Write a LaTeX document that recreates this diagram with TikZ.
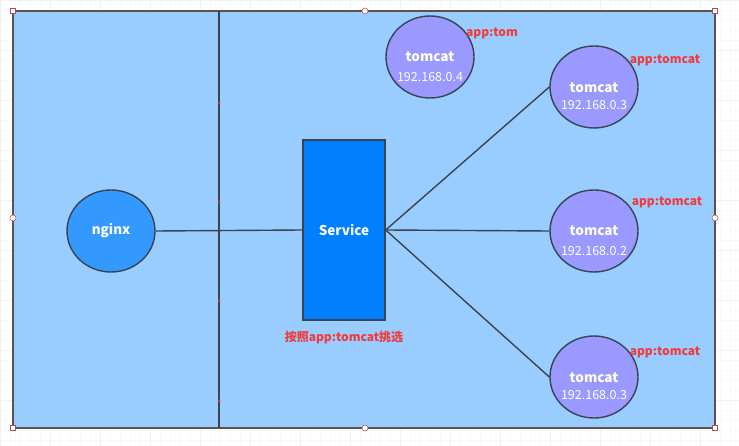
\documentclass[tikz,border=0pt]{standalone}
\usepackage{fontspec}
\setmainfont{Noto Sans CJK SC}
\usetikzlibrary{shapes.geometric}

\definecolor{bgblue}{HTML}{99CCFF}
\definecolor{nginxblue}{HTML}{3399FF}
\definecolor{svcblue}{HTML}{007FFF}
\definecolor{podpurple}{HTML}{9999FF}
\definecolor{tagred}{HTML}{F03C3C}
\definecolor{edgegray}{HTML}{3A4450}
\definecolor{framegray}{HTML}{5E5050}

\tikzset{
  pod/.style={ellipse, draw=edgegray, line width=1.4pt, fill=podpurple,
    minimum width=88pt, minimum height=82pt, inner sep=0pt},
  podname/.style={text=white, font=\bfseries\fontsize{13.5}{15}\selectfont},
  podip/.style={text=white, font=\fontsize{12.5}{14}\selectfont},
  tag/.style={text=tagred, font=\bfseries\fontsize{12}{14}\selectfont},
  link/.style={draw=edgegray, line width=1.4pt},
  handlesq/.style={draw=red!35!gray, fill=white, line width=0.5pt, minimum size=5pt, inner sep=0pt},
  handlecirc/.style={circle, draw=red!35!gray, fill=white, line width=0.5pt, minimum size=6pt, inner sep=0pt},
  dotmark/.style={circle, fill=red!55!gray, minimum size=3pt, inner sep=0pt}
}

\begin{document}
\begin{tikzpicture}[x=1pt,y=-1pt]
    \useasboundingbox (0,0) rectangle (739,446);
    % 背景网格
    \fill[white] (0,0) rectangle (739,446);
    \draw[gray!5, line width=0.4pt, step=10pt] (0,0) grid (739,446);
    \draw[gray!10, line width=0.5pt, step=50pt] (0,0) grid (739,446);

    % 外框
    \draw[framegray, line width=1.6pt, fill=bgblue] (13,11) rectangle (715,428);

    % 分隔竖线
    \coordinate (divtop) at (219,11);
    \coordinate (divbot) at (219,428);
    \draw[link] (divtop) -- (divbot);
    \foreach \y [count=\i] in {103,202,301,401}
        \node[dotmark] (dot\i) at (219,\y) {};

    % nginx 与 Service
    \node[ellipse, draw=edgegray, line width=1.4pt, fill=nginxblue,
          minimum width=88pt, minimum height=82pt, inner sep=0pt,
          text=white, font=\bfseries\fontsize{13.5}{15}\selectfont] (nginx) at (111,231) {nginx};
    \node[draw=edgegray, line width=1.4pt, fill=svcblue, minimum width=82pt, minimum height=180pt,
          text=white, font=\bfseries\fontsize{13.5}{15}\selectfont] (svc) at (344,230) {Service};
    \draw[link] (nginx.east) -- (svc.west);
    \node[tag] (svcnote) at (344,338) {按照app:tomcat挑选};

    % tomcat 节点
    \node[pod] (pod4) at (430,57) {};
    \node[pod] (pod3a) at (594,87) {};
    \node[pod] (pod2) at (594,231) {};
    \node[pod] (pod3b) at (594,377) {};

    \node[podname] (pod4name) at (430,57) {tomcat};
    \node[podip]   (pod4ip)   at (430,77) {192.168.0.4};
    \node[podname] (pod3aname) at (594,88) {tomcat};
    \node[podip]   (pod3aip)   at (594,105) {192.168.0.3};
    \node[podname] (pod2name) at (594,231) {tomcat};
    \node[podip]   (pod2ip)   at (594,251) {192.168.0.2};
    \node[podname] (pod3bname) at (594,378) {tomcat};
    \node[podip]   (pod3bip)   at (594,395) {192.168.0.3};

    \node[tag] (tag4)  at (492,33)  {app:tom};
    \node[tag] (tag3a) at (665,60)  {app:tomcat};
    \node[tag] (tag2)  at (667,202) {app:tomcat};
    \node[tag] (tag3b) at (665,352) {app:tomcat};

    % Service 到 tomcat 的连线
    \draw[link] (svc.east) -- (pod3a.west);
    \draw[link] (svc.east) -- (pod2.west);
    \draw[link] (svc.east) -- (pod3b.west);

    % 选中框的控制点
    \foreach \x/\y [count=\i] in {13/11,715/11,13/428,715/428}
        \node[handlesq] (sq\i) at (\x,\y) {};
    \foreach \x/\y [count=\i] in {365/11,13/218,715/218,365/428}
        \node[handlecirc] (hc\i) at (\x,\y) {};
\end{tikzpicture}
\end{document}
